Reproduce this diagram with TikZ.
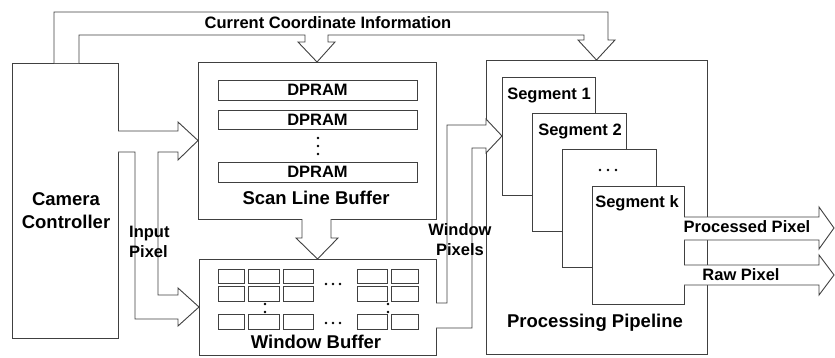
\documentclass[tikz,border=0pt]{standalone}
\usepackage{fontspec}
\setmainfont{Liberation Sans}
\begin{document}
\begin{tikzpicture}[x=1pt,y=-1pt,
  line/.style={draw=black!75, line width=0.9pt},
  box/.style={line, fill=white, rectangle, inner sep=0pt, outer sep=0pt, anchor=north west},
  hollow/.style={line, fill=white, line join=miter},
  lbl/.style={font=\fontsize{16.5}{20}\selectfont\bfseries, inner sep=0pt},
  big/.style={font=\fontsize{18.5}{23}\selectfont\bfseries, inner sep=0pt, align=center},
  dot/.style={fill=black, circle, inner sep=0pt, minimum size=2.6pt},
]
\useasboundingbox (0,0) rectangle (835,357);

% camera controller
\node[box, minimum width=106pt, minimum height=275pt] (cam) at (12,63) {};
\node[big] (camtxt) at (66,211) {Camera\\Controller};

% scan line buffer with its dual-port RAMs
\node[box, minimum width=238pt, minimum height=157pt] (scan) at (198,62) {};
\node[box, lbl, minimum width=199pt, minimum height=20pt] (d1) at (218,80) {DPRAM};
\node[box, lbl, minimum width=199pt, minimum height=19pt] (d2) at (218,110) {DPRAM};
\node[box, lbl, minimum width=199pt, minimum height=20pt] (d3) at (218,162) {DPRAM};
\node[dot] (sd1) at (318,138) {};
\node[dot] (sd2) at (318,146) {};
\node[dot] (sd3) at (318,154) {};
\node[big] (scantxt) at (316,198) {Scan Line Buffer};

% window buffer with register cells
\node[box, minimum width=237pt, minimum height=96pt] (win) at (199,259) {};
\foreach \a/\b in {218/244, 248/279, 283/313, 357/387, 391/418} {
  \foreach \c/\d in {269/283, 286/301, 314/329} {
    \draw[line, line width=0.8pt] (\a,\c) rectangle (\b,\d);
  }
}
\foreach \x in {326,333,340} {
  \node[dot] at (\x,284) {};
  \node[dot] at (\x,323) {};
}
\node[dot] (wv1) at (265,304) {};
\node[dot] (wv2) at (265,312) {};
\node[dot] (wv3) at (388,304) {};
\node[dot] (wv4) at (388,312) {};
\node[big] (wintxt) at (316,342) {Window Buffer};

% processing pipeline with stacked segments
\node[box, minimum width=221pt, minimum height=294pt] (pipe) at (486,60) {};
\node[box, minimum width=93pt, minimum height=118pt] (s1) at (502,77) {};
\node[box, minimum width=94pt, minimum height=118pt] (s2) at (532,113) {};
\node[box, minimum width=94pt, minimum height=118pt] (s3) at (562,149) {};
\node[box, minimum width=92pt, minimum height=118pt] (sk) at (592,186) {};
\node[lbl] (s1txt) at (549,95) {Segment 1};
\node[lbl] (s2txt) at (580,131) {Segment 2};
\foreach \x in {600,608,616} {
  \node[dot] at (\x,170) {};
}
\node[lbl] (sktxt) at (637,203) {Segment k};
\node[big] (pipetxt) at (595,323) {Processing Pipeline};

% coordinate information: one hollow arrow splitting to both units
\path[hollow] (54,63) -- (54,12) -- (608,12) -- (608,40) -- (615,40)
  -- (pipe.north) -- (578,40) -- (584,40) -- (584,35) -- (328,35)
  -- (328,42) -- (335,42) -- (scan.north) -- (298,42) -- (305,42)
  -- (305,35) -- (79,35) -- (79,63);
\node[lbl] (coordtxt) at (328,23) {Current Coordinate Information};

% scan line buffer to window buffer
\path[hollow] (302,219) -- (302,238) -- (296,238) -- (win.north)
  -- (338,238) -- (331,238) -- (331,219);

% input pixels to both buffers
\path[hollow] (118,131) -- (178,131) -- (178,122) -- (scan.west)
  -- (178,160) -- (178,152) -- (158,152) -- (158,295) -- (178,295)
  -- (178,288) -- (win.west) -- (178,326) -- (178,319) -- (135,319)
  -- (135,152) -- (118,152);
\node[lbl, align=left, anchor=west] (intxt) at (129,242) {Input\\Pixel};

% window pixels to the pipeline
\path[hollow] (436,303) -- (447,303) -- (447,125) -- (486,125)
  -- (486,119) -- (s1.west) -- (486,153) -- (486,148) -- (472,148)
  -- (472,328) -- (436,328);
\node[lbl, align=center] (wptxt) at (460,240) {Window\\Pixels};

% outputs
\path[hollow] (sk.east |- 0,217) -- (819,217) -- (819,207) -- (834,228)
  -- (819,249) -- (819,240) -- (sk.east |- 0,240);
\path[hollow] (sk.east |- 0,265) -- (819,265) -- (819,255) -- (834,275)
  -- (819,295) -- (819,285) -- (sk.east |- 0,285);
\node[lbl] (proctxt) at (747,227) {Processed Pixel};
\node[lbl] (rawtxt) at (741,275) {Raw Pixel};
\end{tikzpicture}
\end{document}
